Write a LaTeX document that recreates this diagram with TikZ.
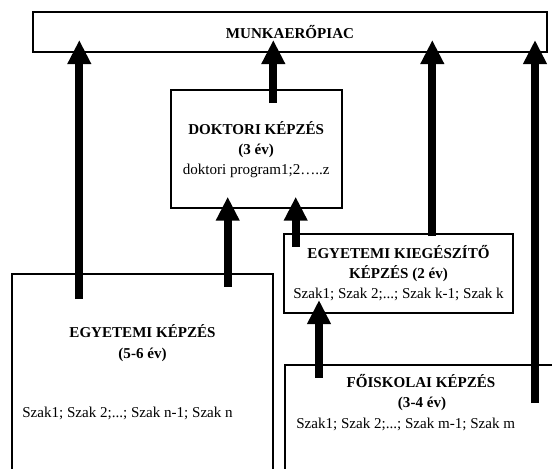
\documentclass[tikz,border=0pt]{standalone}
\usepackage{fontspec}
\setmainfont{Liberation Serif}
\usetikzlibrary{arrows.meta}

\tikzstyle{box} = [draw, line width=1.5pt, inner sep=0pt, align=center]
\tikzstyle{txt} = [inner sep=0pt, anchor=base]
\tikzstyle{up} = [line width=5.8pt, -{Triangle[length=18pt,width=16.7pt]}]

\begin{document}
\begin{tikzpicture}[x=0.75pt, y=-0.75pt, font=\fontsize{11.3}{15}\selectfont]
      \useasboundingbox (0,0) rectangle (552,468);
      \clip (0,0) rectangle (552,468);

      \node[box, minimum width=385pt, minimum height=29.5pt] (piac) at (290,32) {\textbf{MUNKAERŐPIAC}};
      \node[box, minimum width=128.3pt, minimum height=88.7pt] (dokt) at (256.2,149.2)
            {\textbf{DOKTORI KÉPZÉS}\\ \textbf{(3 év)}\\ doktori program1;2…..z};
      \node[box, minimum width=171.3pt, minimum height=59.3pt] (kieg) at (398.5,273.5)
            {\textbf{EGYETEMI KIEGÉSZÍTŐ}\\ \textbf{KÉPZÉS (2 év)}\\ Szak1; Szak 2;...; Szak k-1; Szak k};
      \node[box, minimum width=196.2pt, minimum height=154.3pt] (egy) at (142.5,377.2) {};
      \node[box, minimum width=206.5pt, minimum height=86.3pt] (foisk) at (422.4,422.5) {};

      \node[txt] (egy1) at (142.5,337) {\textbf{EGYETEMI KÉPZÉS}};
      \node[txt] (egy2) at (142.5,358) {\textbf{(5-6 év)}};
      \node[txt, anchor=base west] (egy3) at (22,417) {Szak1; Szak 2;...; Szak n-1; Szak n};
      \node[txt] (foisk1) at (421,387) {\textbf{FŐISKOLAI KÉPZÉS}};
      \node[txt] (foisk2) at (422,407) {\textbf{(3-4 év)}};
      \node[txt, anchor=base west] (foisk3) at (296,428) {Szak1; Szak 2;...; Szak m-1; Szak m};

      % arrow ends
      \coordinate (a1) at (79.3,299);   \coordinate (b1) at (79.3,40);
      \coordinate (a2) at (273.3,103);  \coordinate (b2) at (273.3,40);
      \coordinate (a3) at (432.3,236);  \coordinate (b3) at (432.3,40);
      \coordinate (a4) at (535,403);    \coordinate (b4) at (535,40);
      \coordinate (a5) at (227.7,286.7); \coordinate (b5) at (227.7,196.7);
      \coordinate (a6) at (295.7,246.7); \coordinate (b6) at (295.7,196.7);
      \coordinate (a7) at (319,377.7);  \coordinate (b7) at (319,300);

      \draw[up] (a1) -- (b1);
      \draw[up] (a2) -- (b2);
      \draw[up] (a3) -- (b3);
      \draw[up] (a4) -- (b4);
      \draw[up] (a5) -- (b5);
      \draw[up] (a6) -- (b6);
      \draw[up] (a7) -- (b7);
    \end{tikzpicture}
\end{document}
